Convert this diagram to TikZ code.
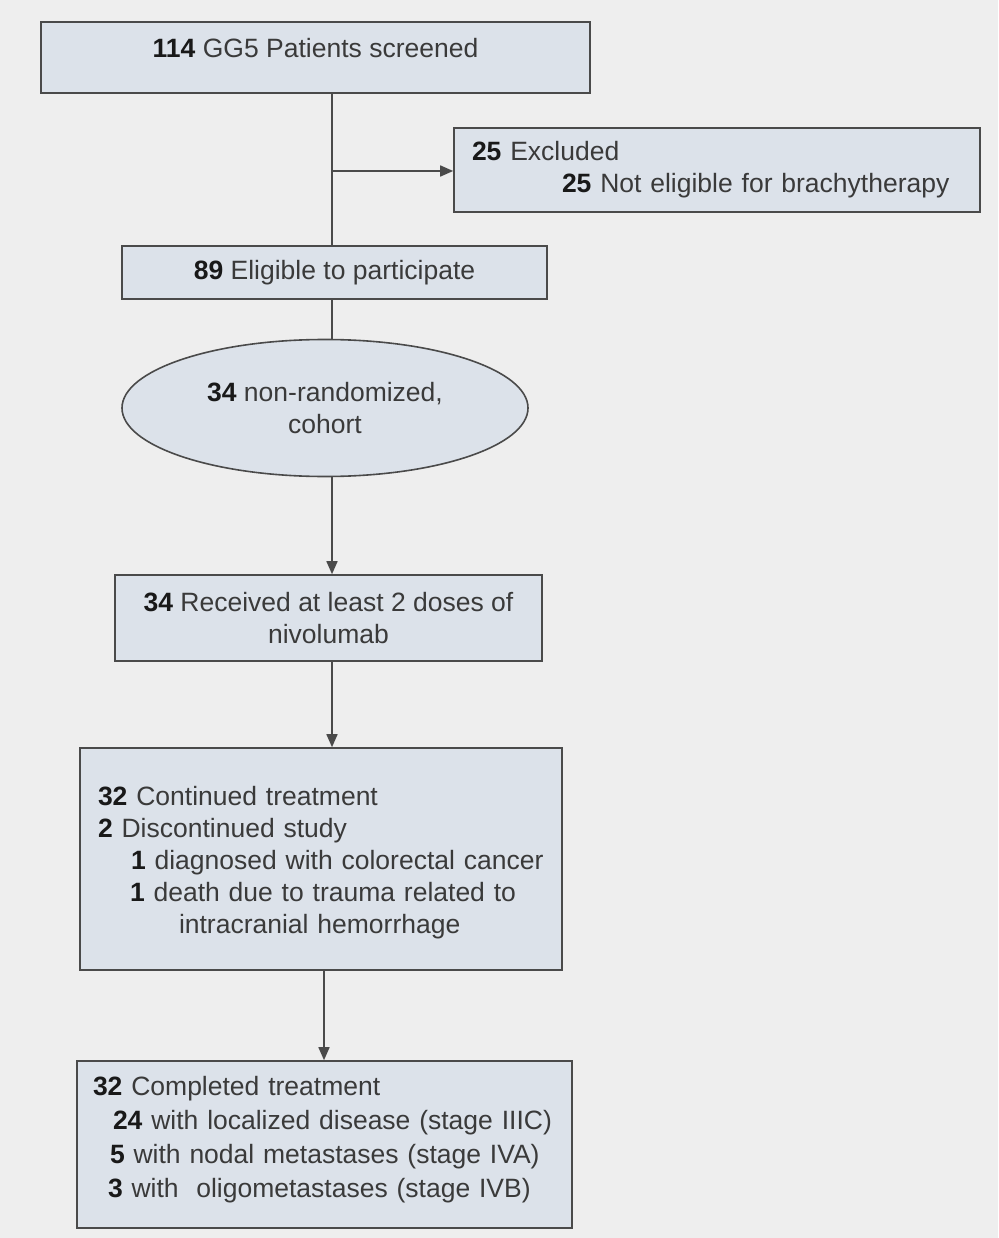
\documentclass[tikz,border=0pt]{standalone}
\usepackage{fontspec}
\setmainfont{Liberation Sans}
\usetikzlibrary{shapes.geometric,arrows.meta}

\definecolor{bgc}{HTML}{EEEEEE}
\definecolor{boxc}{HTML}{DCE2EA}
\definecolor{linec}{HTML}{4A4A4A}
\definecolor{txtc}{HTML}{3A3A3A}
\newcommand{\nb}[1]{{\bfseries\color{black!90}#1}}

\tikzset{
  box/.style={draw=linec, line width=1.6pt, fill=boxc, rectangle, inner sep=0pt,
    text=txtc, font=\fontsize{26.5}{32}\selectfont},
  oval/.style={box, ellipse, align=center},
  link/.style={draw=linec, line width=1.6pt},
  arr/.style={link, -{Triangle[length=13pt,width=11pt]}}
}

\begin{document}
\begin{tikzpicture}[x=1pt,y=-1pt]

% background and page size
\fill[bgc] (0,0) rectangle (998,1238);
\useasboundingbox (0,0) rectangle (998,1238);

% the boxes
\node[box, minimum width=549, minimum height=71, text depth=20pt] (screened) at (315.5,57.5)
  {\nb{114} GG5 Patients screened};
\node[box, minimum width=526, minimum height=84, text width=490, align=left] (excluded) at (717,170)
  {\nb{25} Excluded\\ \hspace*{90pt}\nb{25} Not eligible for brachytherapy};
\node[box, minimum width=425, minimum height=53] (eligible) at (334.5,272.5)
  {\nb{89} Eligible to participate};
\node[oval, minimum width=406, minimum height=137] (cohort) at (325,408)
  {\nb{34} non-randomized,\\cohort};
\node[box, minimum width=427, minimum height=86, align=center] (received) at (328.5,618)
  {\nb{34} Received at least 2 doses of\\nivolumab};
\node[box, minimum width=482, minimum height=222, text width=446, align=left, text depth=126pt] (continued) at (321,859)
  {\nb{32} Continued treatment\\
   \nb{2} Discontinued study\\
   \hspace*{33pt}\nb{1} diagnosed with colorectal cancer\\
   \hspace*{32pt}\nb{1} death due to trauma related to\\
   \hspace*{81pt}intracranial hemorrhage};
\node[box, minimum width=495, minimum height=167, text width=463, align=left, text depth=118pt] (completed) at (324.5,1144.5)
  {\nb{32} Completed treatment\\[2pt]
   \hspace*{20pt}\nb{24} with localized disease (stage IIIC)\\[2pt]
   \hspace*{17pt}\nb{5} with nodal metastases (stage IVA)\\[2pt]
   \hspace*{15pt}\nb{3} with\ \ oligometastases (stage IVB)};

% main line down and the branch to the excluded box
\coordinate (trunk) at (332,0);
\coordinate (split) at (332,171);
\coordinate (lower) at (324,0);
\draw[link] (trunk |- screened.south) -- (trunk |- eligible.north);
\draw[arr] (split) -- (split -| excluded.west);
\draw[link] (trunk |- eligible.south) -- (trunk |- cohort.north);

% arrows down
\draw[arr] (trunk |- cohort.south) -- (trunk |- received.north);
\draw[arr] (trunk |- received.south) -- (trunk |- continued.north);
\draw[arr] (lower |- continued.south) -- (lower |- completed.north);
\end{tikzpicture}
\end{document}
